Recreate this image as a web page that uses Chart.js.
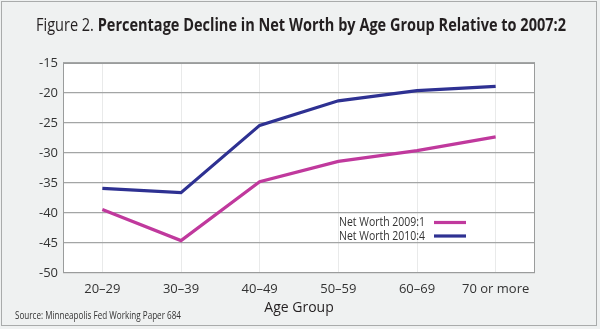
<!DOCTYPE html>
<html>
<head>
<meta charset="utf-8">
<script src="https://cdn.jsdelivr.net/npm/chart.js@4.4.1/dist/chart.umd.min.js"></script>
<style>
  html, body { margin: 0; padding: 0; background: #eff1f1; }
  #wrap { position: relative; width: 600px; height: 329px; overflow: hidden; }
  #frame { position: absolute; left: 1px; top: 1px; width: 596px; height: 325px; border: 1px solid #a9abab; box-sizing: border-box; }
  #chart { position: absolute; left: 0; top: 0; }
  .txt { position: absolute; white-space: nowrap; font-family: "Open Sans", sans-serif; color: #231f20; transform-origin: 0 50%; }
  #title { left: 36px; top: 12px; font-size: 18px; line-height: 24px; }
  #title .light { font-weight: 400; }
  #title .bold { font-weight: 700; }
  #source { left: 15px; top: 307px; font-size: 10.5px; line-height: 16px; color: #333; }
</style>
</head>
<body>
<div id="wrap">
  <div id="frame"></div>
  <canvas id="chart" width="600" height="329"></canvas>
  <div class="txt" id="title"><span class="light">Figure 2. </span><span class="bold">Percentage Decline in Net Worth by Age Group Relative to 2007:2</span></div>
  <div class="txt" id="source">Source: Minneapolis Fed Working Paper 684</div>
</div>
<script>
const categories = ["20\u201329", "30\u201339", "40\u201349", "50\u201359", "60\u201369", "70 or more"];
const seriesNames = ["Net Worth 2009:1", "Net Worth 2010:4"];
const netWorth2009 = [-39.4, -44.6, -34.8, -31.4, -29.6, -27.3];
const netWorth2010 = [-35.9, -36.6, -25.4, -21.3, -19.6, -18.9];
const yTicks = [-15, -20, -25, -30, -35, -40, -45, -50];
const xAxisTitle = "Age Group";

function fitWidth(id, w) {
  const el = document.getElementById(id);
  const r = el.getBoundingClientRect().width;
  el.style.transform = "scaleX(" + (w / r) + ")";
}
fitWidth("title", 530);
fitWidth("source", 166);

const PL = 63, PR = 535, PT = 63, PB = 273, PADB = 13;

const plotBox = {
  id: "plotBox",
  beforeDraw(chart) {
    const a = chart.chartArea, c = chart.ctx;
    c.save();
    c.fillStyle = "#ffffff";
    c.fillRect(a.left, a.top, a.right - a.left, a.bottom - a.top);
    c.restore();
  },
  afterDatasetsDraw(chart) {
    const a = chart.chartArea, c = chart.ctx;
    c.save();
    c.strokeStyle = "#9a9c9c";
    c.lineWidth = 1;
    c.strokeRect(a.left + 0.5, a.top + 0.5, a.right - a.left - 1, a.bottom - a.top - 1);
    // legend
    const items = chart.data.datasets;
    const textRight = 425, lineL = 434, lineR = 466;
    const ys = [222.5, 236];
    c.font = "13px 'Open Sans', sans-serif";
    c.textBaseline = "middle";
    items.forEach((ds, i) => {
      const w = c.measureText(ds.label).width;
      const target = 86;
      c.save();
      c.translate(textRight - target, ys[i]);
      c.scale(target / w, 1);
      c.fillStyle = "#333333";
      c.textAlign = "left";
      c.fillText(ds.label, 0, 0);
      c.restore();
      c.strokeStyle = ds.borderColor;
      c.lineWidth = 3.2;
      c.beginPath();
      c.moveTo(lineL, ys[i]);
      c.lineTo(lineR, ys[i]);
      c.stroke();
    });
    c.restore();
  }
};

new Chart(document.getElementById("chart"), {
  type: "line",
  data: {
    labels: categories,
    datasets: [
      { label: seriesNames[0], data: netWorth2009, borderColor: "#c0399d", borderWidth: 3.2, pointRadius: 0, tension: 0, fill: false },
      { label: seriesNames[1], data: netWorth2010, borderColor: "#2e3192", borderWidth: 3.2, pointRadius: 0, tension: 0, fill: false }
    ]
  },
  options: {
    responsive: false,
    animation: false,
    layout: { padding: { left: 0, right: 600 - PR, top: PT, bottom: PADB } },
    plugins: { legend: { display: false }, tooltip: { enabled: false }, title: { display: false } },
    scales: {
      x: {
        offset: true,
        grid: { offset: false, color: "#e9eaea", lineWidth: 1, drawTicks: false },
        border: { display: false },
        ticks: { color: "#333333", padding: 8, font: { family: "'Open Sans', sans-serif", size: 13 }, maxRotation: 0 },
        title: { display: true, text: xAxisTitle, color: "#231f20", font: { family: "'Open Sans', sans-serif", size: 14 }, padding: 0 },
        afterFit(s) { s.height = 329 - PADB - PB; }
      },
      y: {
        min: -50, max: -15,
        afterBuildTicks(s) { s.ticks = yTicks.map(v => ({ value: v })); },
        grid: { color: "#a3a5a5", lineWidth: 1.3, drawTicks: false },
        border: { display: false },
        ticks: { color: "#333333", padding: 5, font: { family: "'Open Sans', sans-serif", size: 13 } },
        afterFit(s) { s.width = PL; }
      }
    }
  },
  plugins: [plotBox]
});
</script>
</body>
</html>
